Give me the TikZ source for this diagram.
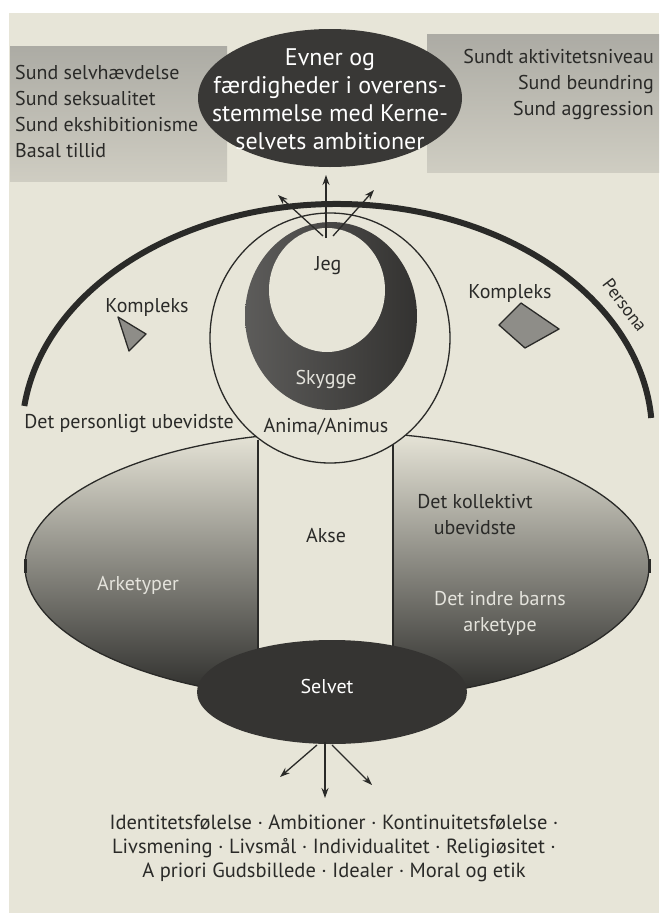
\documentclass[tikz,border=0pt]{standalone}
\usepackage{fontspec}
\setmainfont{PT Sans}
\usepackage{tikz}
\usetikzlibrary{arrows.meta}
\definecolor{paper}{HTML}{E7E5D8}
\definecolor{ink}{HTML}{2A2A28}
\definecolor{boxtop}{HTML}{ACABA4}
\definecolor{boxbot}{HTML}{CFCDC2}
\definecolor{darkc}{HTML}{393836}
\definecolor{midgray}{HTML}{8F8E87}
\definecolor{cplxgray}{HTML}{8E8D88}
\definecolor{lighttxt}{HTML}{E4E3DC}
\tikzset{
    lbl/.style={font=\fontsize{20}{26}\selectfont, text=ink, inner sep=0pt},
    wlbl/.style={lbl, text=lighttxt},
    gbox/.style={top color=boxtop, bottom color=boxbot},
    thinline/.style={draw=ink, line width=1.3pt},
    cplx/.style={fill=cplxgray, draw=ink, line width=1.3pt, line join=round},
    myarrow/.style={-{Stealth[length=10pt,width=7pt]}, line width=1.3pt, draw=ink},
}

\begin{document}
\begin{tikzpicture}[x=1pt,y=-1pt]
    \useasboundingbox (0,0) rectangle (659,913);
    \fill[white] (0,0) rectangle (659,913);
    \fill[paper] (9,13) rectangle (659,913);

    % grey boxes at the top
    \shade[gbox] (10,46) rectangle (227,181);
    \shade[gbox] (427,34) rectangle (659,172);

    \fill[darkc] (330,98) ellipse [x radius=132, y radius=69];
    \node[lbl, font=\fontsize{24}{28}\selectfont, text=white, align=center] (evner) at (330,99)
        {Evner og\\færdigheder i overens-\\stemmelse med Kerne-\\selvets ambitioner};
    \node[lbl, anchor=west, align=left] (venstre) at (15,111)
        {Sund selvhævdelse\\Sund seksualitet\\Sund ekshibitionisme\\Basal tillid};
    \node[lbl, anchor=east, align=right] (hoejre) at (654,84)
        {Sundt aktivitetsniveau\\Sund beundring\\Sund aggression};

    % collective unconscious, axis and self
    \shadedraw[top color=paper, middle color=midgray, bottom color=ink, thinline]
        (337,566) ellipse [x radius=312, y radius=134];
    \draw[ink, line width=3pt] (25,559) -- (25,573) (649,559) -- (649,573);
    \fill[paper] (258,440) rectangle (393,700);
    \draw[thinline] (258,440) -- (258,700) (393,440) -- (393,700);
    \fill[darkc!92!black] (332,692) ellipse [x radius=135, y radius=52];

    % ego, shadow, anima
    \filldraw[fill=paper, thinline] (330,338) ellipse [x radius=120, y radius=125];
    \shade[left color=darkc!82!white, right color=darkc!90!black]
        (331,316) ellipse [x radius=86, y radius=94];
    \fill[paper] (327,290) ellipse [x radius=58, y radius=62];

    % persona
    \draw[ink, line width=6pt] (337,434) ++(187:315 and 230)
        arc [start angle=187, end angle=356, x radius=315, y radius=230];
    \node[lbl, font=\fontsize{18}{22}\selectfont, rotate=-53] (persona) at (625,305) {Persona};

    \coordinate (jl) at (323,236);
    \coordinate (jm) at (326,238);
    \coordinate (jr) at (333,236);
    \coordinate (tl) at (278,195);
    \coordinate (tm) at (326,175);
    \coordinate (tr) at (374,190);
    \draw[myarrow] (jl) -- (tl);
    \draw[myarrow] (jm) -- (tm);
    \draw[myarrow] (jr) -- (tr);

    \filldraw[cplx] (118,317) -- (146,334) -- (129,351) -- cycle;
    \filldraw[cplx] (499,325) -- (521,303) -- (559,329) -- (525,348) -- cycle;

    \node[lbl, anchor=base] (kompV) at (147,312) {Kompleks};
    \node[lbl, anchor=base] (kompH) at (510,298) {Kompleks};
    \node[lbl, anchor=base] (jeg) at (328,270) {Jeg};
    \node[wlbl, anchor=base] (skygge) at (326,384) {Skygge};
    \node[lbl, anchor=base] (anima) at (326,432) {Anima/Animus};
    \node[lbl, anchor=base] (personligt) at (129,428) {Det personligt ubevidste};
    \node[lbl, anchor=base] (akse) at (326,542) {Akse};
    \node[lbl, align=center] (kollektivt) at (475,515) {Det kollektivt\\ubevidste};
    \node[wlbl, anchor=base] (arketyper) at (138,590) {Arketyper};
    \node[wlbl, align=center] (barn) at (500,613) {Det indre barns\\arketype};
    \node[lbl, anchor=base, text=white] (selvet) at (327,693) {Selvet};

    % what comes out of the self
    \coordinate (sl) at (317,745);
    \coordinate (sm) at (325,742);
    \coordinate (sr) at (332,745);
    \coordinate (bl) at (280,777);
    \coordinate (bm) at (325,798);
    \coordinate (br) at (372,785);
    \draw[myarrow] (sl) -- (bl);
    \draw[myarrow] (sm) -- (bm);
    \draw[myarrow] (sr) -- (br);

    \node[lbl, font=\fontsize{20.5}{24}\selectfont, align=center] (udbytte) at (334,848)
        {Identitetsfølelse · Ambitioner · Kontinuitetsfølelse ·\\
         Livsmening · Livsmål · Individualitet · Religiøsitet ·\\
         A priori Gudsbillede · Idealer · Moral og etik};
\end{tikzpicture}
\end{document}
